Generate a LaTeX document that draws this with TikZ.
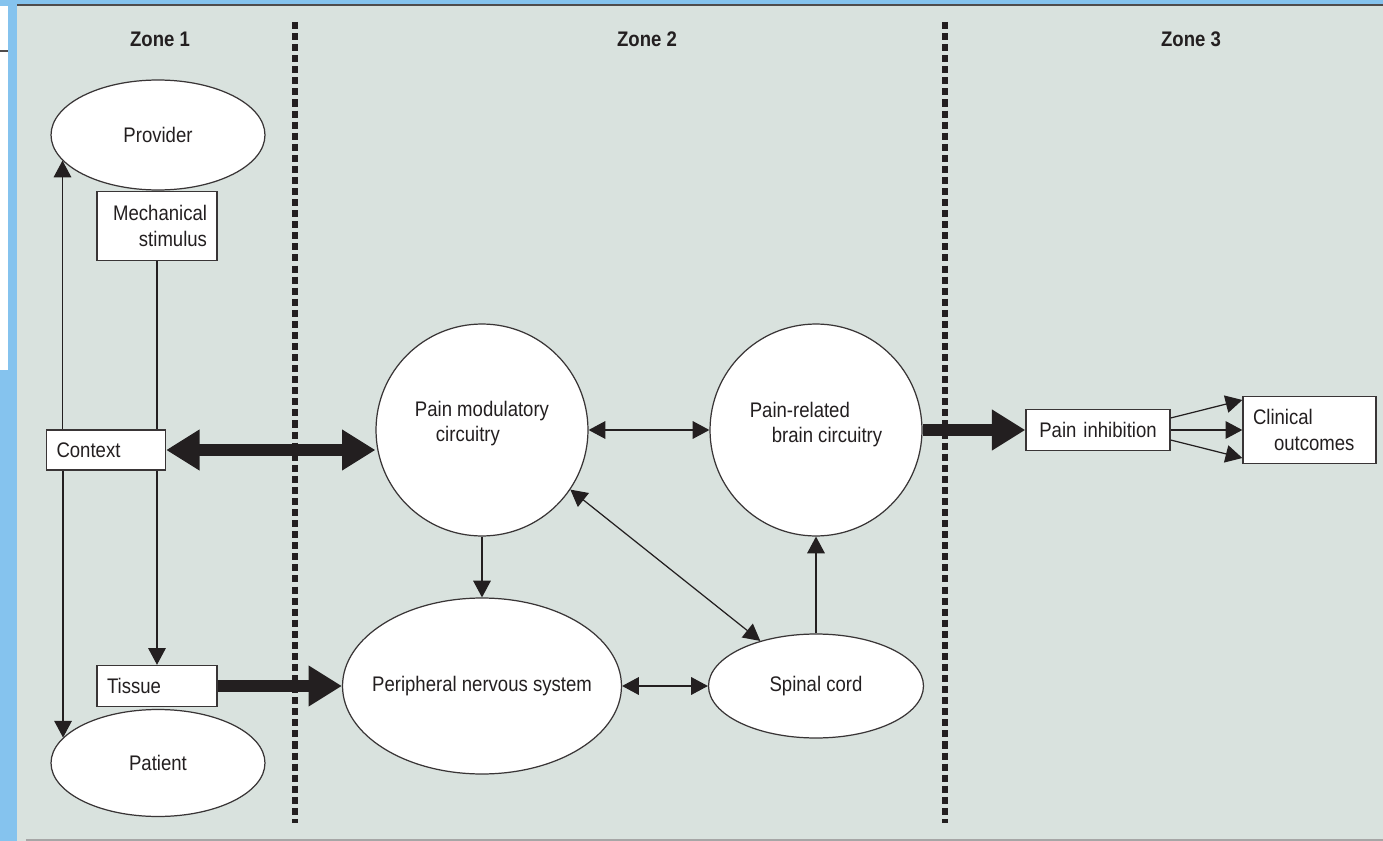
\documentclass[tikz,border=0pt]{standalone}
\usepackage{fontspec}
\setmainfont{Liberation Sans}[FakeStretch=0.88]
\usetikzlibrary{arrows.meta,shapes.geometric}
\definecolor{panel}{RGB}{217,226,222}
\definecolor{sky}{RGB}{133,195,238}
\definecolor{ink}{RGB}{35,31,32}
\tikzset{big/.tip={Triangle[length=19pt,width=22pt]}}

\begin{document}
\begin{tikzpicture}[x=0.02cm,y=-0.02cm,>={Triangle[length=9.5pt,width=10pt]},
  every node/.style={font=\fontsize{12}{14.5}\selectfont,text=ink},
  oval/.style={ellipse,draw=ink!90,line width=0.7pt,fill=white,inner sep=0pt},
  ring/.style={circle,draw=ink!90,line width=0.7pt,fill=white,inner sep=0pt,minimum size=4.24cm},
  tag/.style={draw=ink!90,line width=0.8pt,fill=white,inner xsep=0.2cm,inner ysep=0pt},
  link/.style={line width=0.7pt,draw=ink},
  fat/.style={line width=7pt,draw=ink,-big},
  zonesep/.style={line width=3.8pt,dash pattern=on 4pt off 2.3pt,draw=ink},
  zonehead/.style={font=\fontsize{12}{14}\selectfont\bfseries}]
\useasboundingbox (0,0) rectangle (1383,841);
\fill[sky] (0,0) rectangle (1383,841);
\fill[panel] (17,5) rectangle (1383,841);
\fill[white] (0,6) rectangle (8,370);
\draw[ink!80,line width=1pt] (17,5) -- (1383,5);
\draw[ink!80,line width=0.6pt] (0,51) -- (8,51);
\draw[black!35,line width=1.2pt] (26,840) -- (1383,840);

\draw[zonesep] (295,22) -- (295,823);
\draw[zonesep] (945,22) -- (945,823);

\node[zonehead] (zone1) at (160,39) {Zone 1};
\node[zonehead] (zone2) at (647,39) {Zone 2};
\node[zonehead] (zone3) at (1191,39) {Zone 3};

\node[oval,minimum width=4.28cm,minimum height=2.2cm] (provider) at (158,135) {Provider};
\node[oval,minimum width=4.28cm,minimum height=2.14cm] (patient) at (158,763) {Patient};
\node[tag,text width=2.0cm,align=right,minimum height=1.38cm] (mech) at (157,226) {Mechanical\\stimulus};
\node[tag,text width=1.98cm,align=left,minimum height=0.8cm] (context) at (106,450) {Context};
\node[tag,text width=2.0cm,align=left,minimum height=0.82cm] (tissue) at (157,686) {Tissue};

\node[ring,label={[align=left,yshift=0.13cm]center:Pain modulatory\\\hspace*{0.42cm}circuitry}] (pmc) at (482,430) {};
\node[ring,label={[align=left,yshift=0.11cm]center:Pain-related\\\hspace*{0.44cm}brain circuitry}] (brain) at (816,430) {};
\node[oval,inner xsep=-0.3cm,minimum width=5.58cm,minimum height=3.52cm] (pns) at (482,686) {Peripheral nervous system};
\node[oval,minimum width=4.3cm,minimum height=2.08cm] (spinal) at (816,686) {Spinal cord};

\node[tag,text width=2.48cm,align=center,minimum height=0.82cm] (inhib) at (1098,430) {Pain inhibition};
\node[tag,text width=2.26cm,align=left,minimum height=1.34cm] (clin) at (1309.5,430) {Clinical\\\hspace*{0.42cm}outcomes};

\draw[link,->] (provider.195 |- context.north) -- (provider.195);
\draw[link,->] (patient.165 |- context.south) -- (patient.165);
\draw[link] (mech) -- (mech |- context.north);
\draw[link,->] (mech |- context.south) -- (tissue);

\draw[fat,big-big] (context.east) -- (context.east -| pmc.west);
\draw[fat] (tissue) -- (pns);
\draw[fat] (brain) -- (inhib);

\draw[link,<->] (pmc) -- (brain);
\draw[link,->] (pmc) -- (pns);
\draw[link,<->] (pmc.-34) -- (spinal.141);
\draw[link,<->] (pns) -- (spinal);
\draw[link,->] (spinal) -- (brain);
\foreach \s/\e in {0.24/0.6,0/0,-0.2/-0.56}
  \draw[link,->] ([yshift=\s cm]inhib.east) -- ([yshift=\e cm]clin.west);
\end{tikzpicture}
\end{document}
